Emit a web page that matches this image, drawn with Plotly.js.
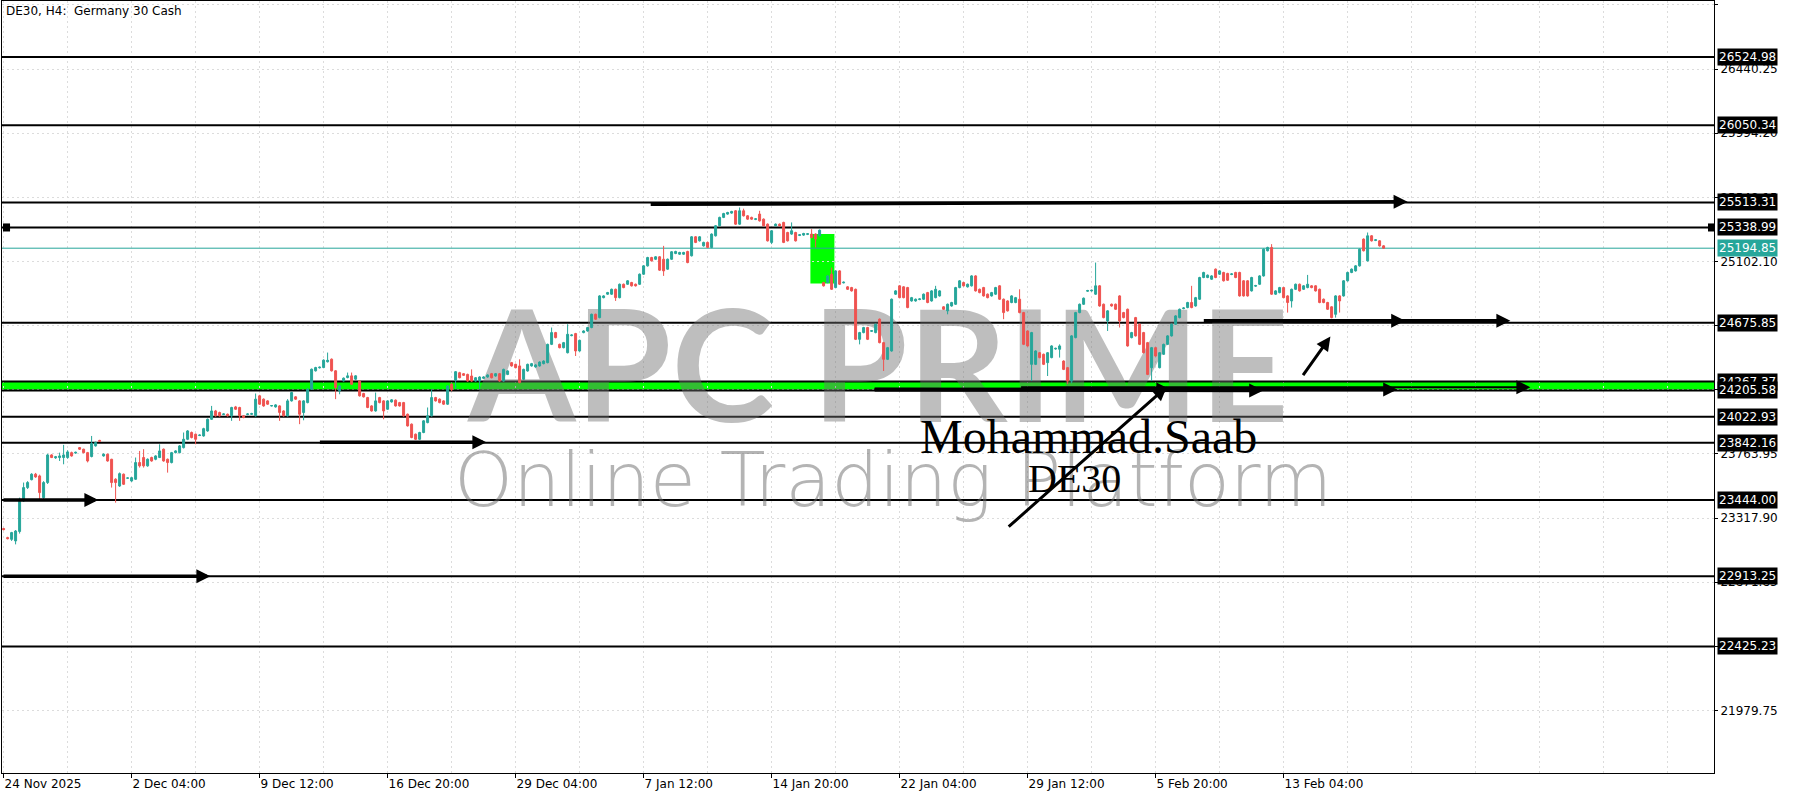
<!DOCTYPE html>
<html>
<head>
<meta charset="utf-8">
<script src="https://cdn.plot.ly/plotly-3.0.1.min.js"></script>
<style>html,body{margin:0;padding:0;background:#fff;}#chart{width:1800px;height:800px;}</style>
</head>
<body>
<div id="chart"></div>
<script>
// ---- DATA (DE30, H4) ----
const open = [
23245,23182,23170,23159,23225,23437,23530,23585,23623,23611,
23460,23565,23757,23737,23739,23739,23739,23773,23770,23808,
23797,23773,23746,23820,23858,23750,23762,23727,23588,23541,
23623,23595,23576,23588,23704,23739,23681,23739,23727,23739,
23797,23727,23704,23773,23773,23808,23866,23913,23901,23892,
23889,23924,24005,24063,24052,24038,24040,24029,24091,24087,
24029,24038,24040,24029,24168,24145,24133,24098,24091,24098,
24063,24029,24133,24161,24133,24052,24121,24214,24342,24363,
24365,24405,24423,24342,24203,24272,24295,24307,24284,24272,
24184,24156,24098,24063,24156,24133,24075,24126,24138,24121,
24121,24040,23971,23901,23866,23913,23982,24029,24156,24145,
24133,24110,24250,24278,24329,24322,24317,24306,24271,24271,
24290,24299,24322,24306,24322,24271,24317,24399,24387,24376,
24283,24341,24376,24369,24376,24392,24399,24526,24608,24526,
24503,24468,24587,24601,24480,24608,24619,24643,24735,24712,
24851,24875,24875,24909,24851,24944,24944,24956,24944,24944,
25014,25072,25130,25118,25135,25118,25049,25118,25158,25153,
25153,25172,25142,25274,25246,25211,25235,25200,25281,25351,
25409,25432,25439,25455,25362,25455,25420,25409,25395,25432,
25397,25362,25235,25351,25362,25374,25304,25293,25304,25284,
25286,25291,25293,25293,25281,24956,24956,25014,24921,25037,
24954,24926,24921,24909,24561,24608,24643,24617,24608,24701,
24538,24422,24480,24875,24933,24926,24921,24828,24828,24838,
24840,24886,24828,24851,24863,24787,24759,24793,24805,24921,
24956,24926,24933,25002,24909,24921,24875,24863,24875,24933,
24840,24828,24817,24817,24840,24747,24619,24387,24387,24468,
24457,24399,24434,24494,24492,24410,24364,24271,24573,24747,
24805,24896,24898,24875,24933,24805,24689,24805,24805,24863,
24747,24770,24573,24712,24666,24608,24538,24364,24503,24364,
24457,24526,24585,24666,24712,24775,24782,24817,24793,24840,
24991,24991,24979,25049,25014,25026,25019,25012,25026,25026,
24968,24968,24898,24931,24944,25002,25177,25200,24875,24886,
24921,24863,24828,24909,24944,24909,24921,24933,24933,24909,
24840,24817,24787,24735,24863,24863,24968,25026,25037,25072,
25258,25107,25281,25249,25246,25211
];
const high = [
23250,23188,23222,23235,23460,23565,23575,23630,23632,23620,
23575,23765,23762,23750,23773,23827,23790,23780,23780,23812,
23800,23778,23889,23850,23862,23768,23766,23730,23595,23635,
23628,23600,23604,23739,23785,23797,23733,23745,23755,23831,
23802,23732,23778,23790,23826,23913,23930,23920,23906,23900,
23946,24010,24098,24070,24058,24046,24045,24092,24098,24092,
24034,24047,24050,24184,24175,24150,24138,24104,24110,24103,
24068,24145,24197,24166,24138,24138,24220,24358,24370,24372,
24422,24469,24428,24347,24242,24296,24330,24330,24312,24277,
24189,24161,24103,24191,24161,24138,24138,24145,24143,24126,
24126,24045,23976,23906,23918,23999,24087,24214,24161,24150,
24138,24242,24255,24340,24335,24326,24322,24352,24299,24304,
24304,24318,24327,24327,24327,24357,24346,24404,24392,24422,
24357,24392,24397,24388,24408,24415,24531,24643,24613,24531,
24543,24666,24596,24606,24559,24624,24648,24740,24740,24868,
24868,24891,24914,24914,24949,24949,24973,24961,24949,25019,
25077,25135,25135,25140,25140,25211,25123,25175,25177,25170,
25170,25177,25279,25279,25279,25240,25240,25298,25356,25414,
25441,25448,25455,25460,25478,25470,25425,25414,25404,25455,
25402,25367,25321,25367,25367,25379,25309,25374,25309,25293,
25302,25300,25327,25298,25325,24961,25007,25060,25042,25042,
24963,24931,24926,24914,24613,24648,24648,24626,24671,24706,
24543,24508,24845,24903,24938,24931,24926,24856,24845,24847,
24880,24891,24903,24933,24903,24792,24810,24822,24926,24973,
24961,24949,25007,25007,24914,24926,24880,24891,24926,24938,
24845,24833,24868,24856,24909,24752,24624,24613,24485,24473,
24462,24473,24520,24503,24526,24415,24369,24590,24752,24810,
24852,24905,24907,25095,24938,24810,24764,24810,24810,24868,
24752,24775,24613,24717,24671,24613,24543,24508,24508,24473,
24531,24590,24671,24729,24775,24784,24822,24933,24856,24996,
25031,25012,25007,25054,25042,25031,25024,25021,25031,25031,
24973,24973,24996,24940,25007,25193,25205,25223,24903,24926,
24926,24868,24914,24949,24949,24938,25009,24938,24938,24914,
24845,24822,24792,24868,24868,24973,25031,25054,25077,25193,
25263,25304,25286,25258,25251,25216
];
const low = [
23232,23170,23159,23135,23210,23430,23520,23580,23598,23449,
23449,23555,23735,23730,23715,23692,23730,23745,23765,23792,
23768,23705,23740,23815,23848,23745,23710,23530,23425,23535,
23548,23590,23570,23583,23669,23669,23675,23710,23720,23735,
23710,23634,23698,23768,23768,23802,23860,23872,23831,23888,
23884,23918,24000,24024,24024,24034,24024,23994,24070,23994,
24012,24033,24036,24024,24105,24092,24105,24094,24086,23994,
24024,24024,24128,24140,23971,23998,24116,24209,24337,24358,
24360,24400,24337,24145,24179,24267,24290,24244,24279,24163,
24156,24082,24058,24058,24116,24005,24070,24121,24093,24093,
24024,23954,23873,23861,23861,23908,23977,24024,24128,24116,
24105,24105,24200,24215,24290,24306,24266,24266,24266,24213,
24285,24294,24289,24301,24266,24266,24312,24371,24359,24255,
24278,24336,24371,24364,24371,24387,24394,24521,24568,24498,
24498,24463,24582,24445,24475,24603,24614,24638,24696,24707,
24846,24870,24870,24828,24846,24916,24939,24928,24928,24939,
25009,25067,25102,25113,25037,25002,25044,25113,25153,25148,
25148,25090,25137,25230,25241,25206,25195,25195,25276,25346,
25404,25427,25434,25357,25357,25415,25392,25392,25390,25380,
25346,25241,25223,25346,25346,25230,25241,25288,25241,25279,
25281,25286,25264,25200,25276,24928,24951,24904,24916,24939,
24950,24904,24893,24556,24526,24603,24556,24612,24603,24533,
24341,24417,24475,24870,24846,24846,24777,24823,24823,24833,
24835,24812,24823,24846,24858,24765,24735,24788,24800,24916,
24928,24921,24928,24893,24881,24858,24846,24858,24870,24835,
24701,24754,24812,24812,24742,24521,24510,24271,24382,24429,
24382,24306,24429,24489,24434,24347,24250,24255,24568,24742,
24800,24891,24893,24870,24788,24707,24619,24788,24765,24643,
24707,24510,24568,24580,24521,24463,24312,24271,24440,24359,
24452,24521,24580,24661,24707,24770,24777,24777,24788,24835,
24986,24986,24974,24986,25009,24963,24967,25007,24986,24858,
24858,24858,24893,24926,24939,24997,25172,24870,24870,24881,
24846,24747,24782,24904,24893,24904,24916,24916,24893,24812,
24812,24765,24707,24712,24747,24858,24963,25021,25032,25067,
25172,25102,25241,25244,25206,25190
];
const close = [
23238,23175,23217,23228,23449,23530,23565,23623,23604,23495,
23565,23757,23739,23744,23750,23757,23778,23750,23775,23797,
23773,23715,23836,23843,23852,23762,23715,23565,23565,23627,
23553,23597,23599,23704,23681,23681,23727,23715,23750,23785,
23715,23704,23773,23785,23820,23866,23924,23878,23866,23895,
23940,24005,24063,24029,24029,24042,24029,24087,24075,24029,
24017,24042,24044,24145,24110,24098,24110,24100,24105,24052,
24029,24133,24191,24145,24040,24133,24214,24353,24365,24367,
24416,24415,24342,24226,24237,24291,24307,24249,24307,24168,
24161,24087,24063,24133,24121,24063,24133,24140,24098,24098,
24029,23959,23878,23866,23913,23994,24029,24156,24133,24121,
24110,24237,24210,24336,24294,24311,24271,24271,24294,24299,
24299,24313,24294,24322,24271,24352,24341,24376,24364,24260,
24352,24387,24392,24383,24403,24410,24526,24608,24573,24503,
24538,24596,24591,24480,24554,24619,24643,24735,24701,24863,
24863,24886,24909,24851,24944,24921,24968,24933,24933,25014,
25072,25130,25107,25135,25042,25037,25118,25170,25172,25165,
25165,25095,25274,25235,25274,25235,25200,25293,25351,25409,
25436,25443,25450,25362,25455,25420,25397,25397,25399,25385,
25351,25246,25316,25362,25351,25235,25246,25316,25246,25288,
25297,25295,25269,25258,25320,24933,25002,24909,25037,24944,
24958,24909,24898,24561,24608,24643,24561,24621,24666,24538,
24422,24503,24840,24898,24851,24851,24782,24851,24840,24842,
24875,24817,24898,24909,24898,24770,24805,24817,24921,24968,
24933,24944,25002,24898,24886,24863,24851,24886,24921,24840,
24747,24759,24863,24851,24747,24526,24515,24608,24480,24434,
24387,24468,24515,24498,24515,24352,24271,24585,24747,24805,
24847,24900,24902,24933,24793,24712,24759,24793,24770,24689,
24712,24515,24608,24585,24526,24468,24317,24503,24445,24468,
24526,24585,24666,24724,24770,24779,24817,24782,24851,24991,
25026,25007,25002,24991,25037,24968,24972,25016,24991,24863,
24863,24863,24991,24935,25002,25188,25200,24875,24898,24921,
24851,24817,24909,24944,24898,24933,24944,24921,24898,24817,
24817,24770,24712,24863,24828,24968,25026,25049,25072,25188,
25177,25281,25246,25253,25211,25195
];
const timeTickPos = [0, 32, 64, 96, 128, 160, 192, 224, 256, 288, 320];
const timeTickText = ['24 Nov 2025','2 Dec 04:00','9 Dec 12:00','16 Dec 20:00','29 Dec 04:00','7 Jan 12:00','14 Jan 20:00','22 Jan 04:00','29 Jan 12:00','5 Feb 20:00','13 Feb 04:00'];
const priceTicks = [26886.30, 26440.25, 25994.20, 25548.15, 25102.10, 24656.05, 24210.00, 23763.95, 23317.90, 22871.85, 22425.80, 21979.75];
const levelPrices = [26524.98, 26050.34, 25513.31, 25338.99, 24675.85, 24267.37, 24205.58, 24022.93, 23842.16, 23444.00, 22913.25, 22425.23];
const currentPrice = 25194.85;
const zoneLow = 24205.58, zoneHigh = 24267.37;
const gapBox = {x0: 201.7, x1: 207.7, y0: 24949, y1: 25293};
// arrows: [tailX, tailY, headX, headY, width]
const arrows = [
  [161.4, 25500, 351.0, 25518, 3.5],
  [299.7, 24690, 350.4, 24690, 3.5],
  [299.7, 24690, 376.7, 24690, 3.5],
  [217.4, 24212, 291.7, 24212, 3.5],
  [217.4, 24212, 314.9, 24205, 3.5],
  [217.4, 24212, 348.4, 24212, 3.5],
  [254.0, 24228, 381.7, 24228, 2],
  [250.9, 23249, 290.8, 24232, 3],
  [324.6, 24301, 331.7, 24580, 3],
  [78.7, 23845, 120.7, 23845, 3.5],
  [-0.4, 23444, 23.7, 23444, 3.5],
  [-0.4, 22913.25, 51.7, 22913.25, 3.5]
];
const watermarkMain = {text:'APC PRIME', x:218.7, y:24255};
const watermarkSub = {text:'Online Trading Platform', x:222.4, y:23530};

const idx = close.map((_, i) => i);
const FONT = 'DejaVu Sans';
const BULL = '#26a69a', BEAR = '#ef5350';
const xr = [-0.4, 427.6];
const yr = [21545, 26914];

const traces = [];
levelPrices.forEach(p => traces.push({type:'scatter', mode:'lines', x:xr, y:[p, p], xaxis:'x', yaxis:'y',
  line:{color:'#000', width:2}, hoverinfo:'skip'}));
traces.push({type:'scatter', mode:'lines', x:xr, y:[currentPrice, currentPrice], xaxis:'x', yaxis:'y',
  line:{color:BULL, width:1}, hoverinfo:'skip'});
traces.push({type:'scatter', mode:'text', x:[watermarkMain.x], y:[watermarkMain.y], text:[watermarkMain.text], xaxis:'x', yaxis:'y',
  textposition:'middle center', hoverinfo:'skip',
  textfont:{family:'Lato', size:155, weight:700, color:'rgba(110,110,110,0.45)'}});
traces.push({type:'scatter', mode:'text', x:[watermarkSub.x], y:[watermarkSub.y], text:[watermarkSub.text], xaxis:'x', yaxis:'y',
  textposition:'middle center', hoverinfo:'skip',
  textfont:{family:'DejaVu Sans', size:75, weight:200, color:'rgba(105,105,105,0.5)'}});
traces.push({type:'candlestick', x:idx, open:open, high:high, low:low, close:close, xaxis:'x', yaxis:'y2',
  whiskerwidth:0, hoverinfo:'skip',
  increasing:{line:{color:BULL, width:1}, fillcolor:BULL},
  decreasing:{line:{color:BEAR, width:1}, fillcolor:BEAR}});

const shapes = [];
shapes.push({type:'rect', xref:'paper', x0:0, x1:1, yref:'y', y0:zoneLow, y1:zoneHigh, fillcolor:'#00ff00', line:{width:0}, layer:'below'});
shapes.push({type:'rect', xref:'x', x0:gapBox.x0, x1:gapBox.x1, yref:'y', y0:gapBox.y0, y1:gapBox.y1, fillcolor:'#00ff00', line:{width:0}, layer:'below'});
shapes.push({type:'rect', xref:'paper', x0:0.0006, x1:0.0047, yref:'y', y0:25338.99-28, y1:25338.99+28, fillcolor:'#000', line:{width:0}, layer:'above'});
shapes.push({type:'rect', xref:'paper', x0:0.9965, x1:1.0, yref:'y', y0:25338.99-28, y1:25338.99+28, fillcolor:'#000', line:{width:0}, layer:'above'});

const annotations = [];
annotations.push({xref:'paper', yref:'paper', x:0.001, y:1, xanchor:'left', yanchor:'top', yshift:-1, showarrow:false,
  text:'DE30, H4: \u00a0Germany 30 Cash', font:{family:FONT, size:12, color:'#000'}});
arrows.forEach(a => annotations.push({xref:'x', yref:'y', axref:'x', ayref:'y', x:a[2], y:a[3], ax:a[0], ay:a[1],
  text:'', showarrow:true, arrowhead:2, arrowsize: 2.8 / a[4], arrowwidth:a[4], arrowcolor:'#000', standoff:0}));
annotations.push({xref:'x', yref:'y', x:271.2, y:23882, text:'Mohammad.Saab', showarrow:false, xanchor:'center', yanchor:'middle',
  font:{family:'Liberation Serif', size:48, color:'#000'}});
annotations.push({xref:'x', yref:'y', x:267.7, y:23590, text:'DE30', showarrow:false, xanchor:'center', yanchor:'middle',
  font:{family:'Liberation Serif', size:40, color:'#000'}});
levelPrices.forEach(p => annotations.push({xref:'paper', yref:'y', x:1, y:p, xanchor:'left', yanchor:'middle', xshift:3,
  showarrow:false, text:p.toFixed(2), bgcolor:'#000', borderpad:1, font:{family:FONT, size:12, color:'#fff'}}));
annotations.push({xref:'paper', yref:'y', x:1, y:currentPrice, xanchor:'left', yanchor:'middle', xshift:3,
  showarrow:false, text:currentPrice.toFixed(2), bgcolor:BULL, borderpad:1, font:{family:FONT, size:12, color:'#fff'}});

const gridStyle = {gridcolor:'#dcdcdc', griddash:'2px,3px', gridwidth:1};
const layout = {
  width:1800, height:800,
  margin:{l:2, r:86, t:1, b:27},
  paper_bgcolor:'#fff', plot_bgcolor:'#fff',
  showlegend:false, dragmode:false,
  font:{family:FONT, size:12, color:'#000'},
  xaxis:Object.assign({
    range:xr, type:'linear', rangeslider:{visible:false},
    tickmode:'array', tickvals:timeTickPos, ticktext:timeTickText,
    ticklabelposition:'outside right', ticks:'outside', ticklen:4, tickcolor:'#000',
    showgrid:true, zeroline:false, showline:true, linecolor:'#000', linewidth:1, mirror:true,
    tickfont:{family:FONT, size:12, color:'#000'},
    minor:{tick0:0, dtick:16, showgrid:true, gridcolor:'#dcdcdc', griddash:'2px,3px', ticks:''}
  }, gridStyle),
  yaxis:Object.assign({
    range:yr, side:'right', tickmode:'array', tickvals:priceTicks, ticktext:priceTicks.map(v => v.toFixed(2)),
    ticks:'outside', ticklen:3, tickcolor:'#000', showgrid:true, zeroline:false,
    showline:true, linecolor:'#000', linewidth:1, mirror:true,
    tickfont:{family:FONT, size:12, color:'#000'}
  }, gridStyle),
  yaxis2:{range:yr, overlaying:'y', side:'right', visible:false, showgrid:false, zeroline:false},
  shapes:shapes,
  annotations:annotations
};

Plotly.newPlot('chart', traces, layout, {staticPlot:true, displayModeBar:false});
</script>
</body>
</html>
